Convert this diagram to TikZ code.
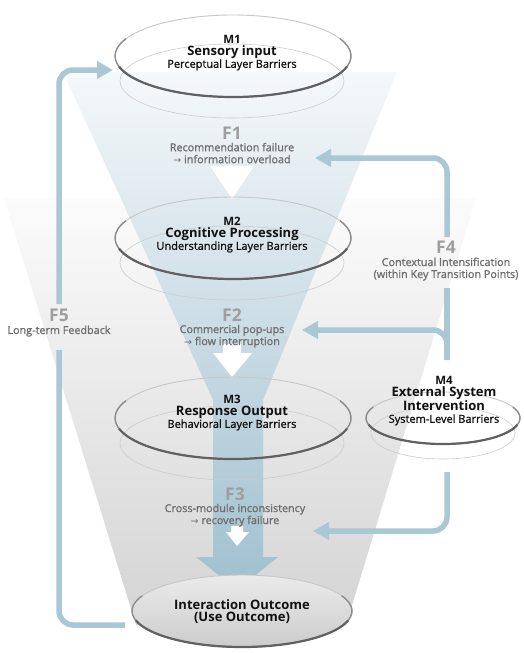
\documentclass[tikz,border=0pt]{standalone}
\usepackage{fontspec}
\setmainfont{Open Sans}
\newfontfamily\medfont{Open Sans}[FakeBold=1.2]
\newfontfamily\arrowfont{DejaVu Sans}
\usetikzlibrary{arrows.meta,calc}
\definecolor{conncol}{HTML}{A9C7D4}
\definecolor{flabel}{HTML}{9E9E9E}
\definecolor{fdesc}{HTML}{6E6E6E}
\definecolor{modtext}{HTML}{111111}
\tikzset{
  conn/.style={draw=conncol, line width=5.5pt, rounded corners=14pt},
  tip/.style={-{Triangle[length=16pt,width=17pt]}},
  modtxt/.style={align=center, text=modtext, inner sep=0pt},
  ftxt/.style={align=center, inner sep=0pt},
  ringlight/.style={draw=black!22, line width=0.9pt},
  ringmid/.style={draw=black!45, line width=1.4pt},
  ringdark/.style={draw=black!62, line width=2.2pt},
  ringinner/.style={draw=black!20, line width=0.6pt},
  whitearrow/.style={fill=white, draw=none}
}
\newcommand{\Mlab}[1]{{\fontsize{11.5}{14.5}\selectfont\bfseries #1}}
\newcommand{\Mtitle}[1]{{\fontsize{13}{14.5}\selectfont\bfseries #1}}
\newcommand{\Msub}[1]{{\fontsize{11}{14.5}\medfont #1}}
\newcommand{\Flab}[1]{{\fontsize{17.5}{16}\selectfont\bfseries\color{flabel}#1}}
\newcommand{\Fdesc}[1]{{\fontsize{10.8}{12.5}\medfont\color{fdesc}#1}}
\newcommand{\Arr}{{\arrowfont\fontsize{9.5}{12.5}\selectfont →}}
\begin{document}
\begin{tikzpicture}[x=1pt,y=-1pt]
\useasboundingbox (0,0) rectangle (523,653);
\fill[white] (0,0) rectangle (523,653);

% grey background funnel
\shade[top color=black!1.5, bottom color=black!17] (4,198) -- (476,198) -- (346,625) -- (136,625) -- cycle;

% blue funnel arrow
\shade[top color={rgb,255:red,245;green,248;blue,250}, middle color={rgb,255:red,205;green,222;blue,230}, bottom color={rgb,255:red,160;green,192;blue,207}]
  (63,72) -- (397,72) -- (263,400) -- (263,557) -- (278,557) -- (237,590) -- (196,557) -- (213,557) -- (213,400) -- cycle;

% white step arrows
\fill[whitearrow] (210,166) -- (254,166) -- (232,199) -- cycle;
\fill[whitearrow] (223,344) -- (241,344) -- (241,353) -- (252,353) -- (232,377) -- (213,353) -- (223,353) -- cycle;
\fill[whitearrow] (231,526) -- (243,526) -- (243,532) -- (249,532) -- (237,546) -- (226,532) -- (231,532) -- cycle;

% module rings
\foreach \cy in {56,238,418}{
  \draw[ringinner] (232,\cy+25) ellipse [x radius=112, y radius=37];
  \draw[ringlight] (233,\cy) ellipse [x radius=118, y radius=41];
  \draw[ringmid] (233,\cy) ++(-25:118 and 41) arc [start angle=-25, end angle=205, x radius=118, y radius=41];
  \draw[ringdark] (233,\cy) ++(15:118 and 41) arc [start angle=15, end angle=165, x radius=118, y radius=41];
}
% M4 ring
\draw[ringinner] (443,433) ellipse [x radius=72, y radius=26];
\draw[ringlight] (443,418) ellipse [x radius=77, y radius=26];
\draw[ringmid] (443,418) ++(-25:77 and 26) arc [start angle=-25, end angle=205, x radius=77, y radius=26];
\draw[ringdark] (443,418) ++(15:77 and 26) arc [start angle=15, end angle=165, x radius=77, y radius=26];

% outcome disc
\shade[top color=black!8, bottom color=black!20] (242,611) ellipse [x radius=110, y radius=36];
\draw[ringlight] (242,611) ellipse [x radius=110, y radius=36];
\draw[ringmid] (242,611) ++(-25:110 and 36) arc [start angle=-25, end angle=205, x radius=110, y radius=36];
\draw[ringdark] (242,611) ++(15:110 and 36) arc [start angle=15, end angle=165, x radius=110, y radius=36];

% module texts
\node[modtxt] (m1) at (232,53) {\Mlab{M1}\\\Mtitle{Sensory input}\\\Msub{Perceptual Layer Barriers}};
\node[modtxt] (m2) at (232,235) {\Mlab{M2}\\\Mtitle{Cognitive Processing}\\\Msub{Understanding Layer Barriers}};
\node[modtxt] (m3) at (232,413) {\Mlab{M3}\\\Mtitle{Response Output}\\\Msub{Behavioral Layer Barriers}};
\node[modtxt] (m4) at (444,401) {\Mlab{M4}\\\Mtitle{External System}\\\Mtitle{Intervention}\\\Msub{System-Level Barriers}};
\node[modtxt] (out) at (242,612) {\Mtitle{Interaction Outcome}\\\Mtitle{(Use Outcome)}};

% flow texts
\node[ftxt] (f1) at (232,145) {\Flab{F1}\\\Fdesc{Recommendation failure}\\\Fdesc{\Arr{} information overload}};
\node[ftxt] (f2) at (232,328) {\Flab{F2}\\\Fdesc{Commercial pop-ups}\\\Fdesc{\Arr{} flow interruption}};
\node[ftxt] (f3) at (235,507) {\Flab{F3}\\\Fdesc{Cross-module inconsistency}\\\Fdesc{\Arr{} recovery failure}};
\node[ftxt] (f4) at (446,261) {\Flab{F4}\\\Fdesc{Contextual Intensification}\\\Fdesc{(within Key Transition Points)}};
\node[ftxt] (f5) at (59,323) {\Flab{F5}\\\Fdesc{Long-term Feedback}};

% connector anchor points
\coordinate (m4up) at (447,360);
\coordinate (f4below) at (447,288);
\coordinate (f4above) at (447,237);
\coordinate (f1in) at (315,158);
\coordinate (f2in) at (302,330);
\coordinate (m4down) at (447,472);
\coordinate (f3in) at (313,531);
\coordinate (outleft) at (125,625);
\coordinate (f5below) at (59,350);
\coordinate (f5above) at (59,304);
\coordinate (m1in) at (113,70);

% connectors
\draw[conn] (m4up) -- (f4below);
\draw[conn, tip] (f4above) |- (f1in);
\draw[conn, tip] (m4up) |- (f2in);
\draw[conn, tip] (m4down) |- (f3in);
\draw[conn] (outleft) -| (f5below);
\draw[conn, tip] (f5above) |- (m1in);
\end{tikzpicture}
\end{document}
